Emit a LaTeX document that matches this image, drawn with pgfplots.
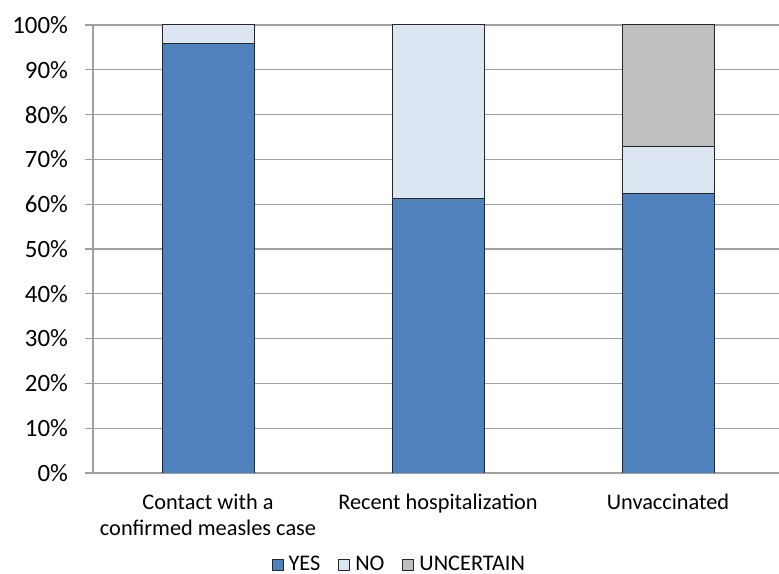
\documentclass[border=0pt]{standalone}
\usepackage{pgfplots}
\pgfplotsset{compat=1.18}
\usepackage{fontspec}
\setmainfont{Carlito}
\definecolor{yesblue}{HTML}{4F81BD}
\definecolor{nolight}{HTML}{DCE6F2}
\definecolor{uncgray}{HTML}{BFBFBF}
\definecolor{gridgray}{HTML}{A0A0A0}
\begin{document}
\begin{tikzpicture}
\begin{axis}[
  at={(46.5bp,50.5bp)}, anchor=south west,
  scale only axis, width=345bp, height=224bp,
  ybar stacked, bar width=0.4,
  xmin=-0.5, xmax=2.5, ymin=0, ymax=100,
  axis x line*=bottom, axis y line*=left,
  axis line style={gridgray, line width=0.6bp},
  ytick={0,10,...,100},
  yticklabel={\pgfmathparse{int(\tick)}\pgfmathresult\%},
  ymajorgrids, grid style={gridgray, line width=0.6bp},
  tick align=outside, major tick length=4bp,
  ytick style={gridgray, line width=0.6bp},
  /pgf/number format/assume math mode=true,
  yticklabel style={font=\fontsize{12.5}{15}\selectfont, black, xshift=-5bp},
  xtick={0,1,2},
  xticklabels={
    {\begin{tabular}{@{}c@{}}Contact with a\\confirmed measles case\end{tabular}},
    {\begin{tabular}{@{}c@{}}Recent hospitalization\end{tabular}},
    {\begin{tabular}{@{}c@{}}Unvaccinated\end{tabular}}},
  xticklabel style={font=\fontsize{11.2}{13.2}\selectfont, black, yshift=-1.5bp},
  x tick style={draw=none},
  extra x ticks={-0.5,0.5,1.5,2.5},
  extra x tick labels={},
  extra x tick style={grid=none, major tick length=4bp,
    tick style={gridgray, line width=0.6bp, draw=gridgray}},
  legend columns=3,
  legend style={at={(0.446,-0.205)}, anchor=center, draw=none, fill=none,
    font=\fontsize{11.2}{13}\selectfont, inner sep=0pt,
    nodes={inner xsep=2.5bp, inner ysep=0pt},
    /tikz/every even column/.append style={column sep=6.5bp}},
  legend cell align=left,
  legend image code/.code={\draw[#1, line width=0.5bp] (0bp,-2.75bp) rectangle (5.5bp,2.75bp);},
]
\addplot[fill=yesblue, draw=black!85, line width=0.5bp] coordinates {(0,95.8) (1,61.2) (2,62.4)};
\addplot[fill=nolight, draw=black!85, line width=0.5bp] coordinates {(0,4.2) (1,38.8) (2,10.5)};
\addplot[fill=uncgray, draw=black!85, line width=0.5bp] coordinates {(0,0) (1,0) (2,27.1)};
\legend{YES,NO,UNCERTAIN}
\end{axis}
\pgfresetboundingbox
\useasboundingbox (0,0) rectangle (389.5bp,287bp);
\end{tikzpicture}
\end{document}
